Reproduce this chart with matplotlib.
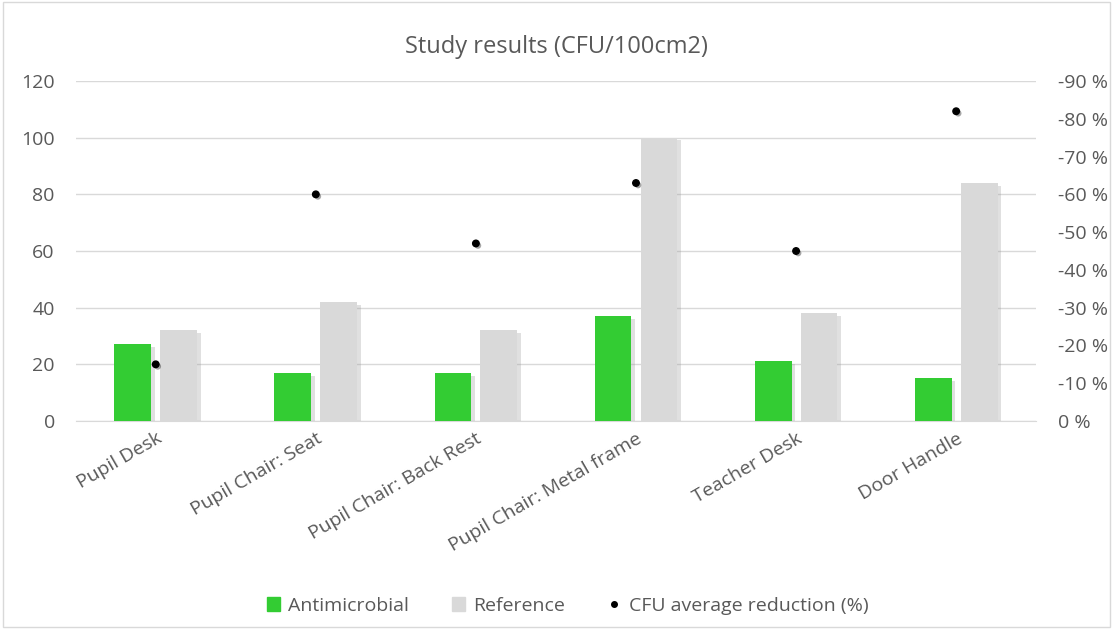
import matplotlib
matplotlib.use("Agg")
import matplotlib.pyplot as plt
import matplotlib.patheffects as pe
from matplotlib.patches import Patch
from matplotlib.lines import Line2D
import numpy as np

# data
categories = ["Pupil Desk", "Pupil Chair: Seat", "Pupil Chair: Back Rest",
              "Pupil Chair: Metal frame", "Teacher Desk", "Door Handle"]
antimicrobial = [27, 17, 17, 37, 21, 15]
reference = [32, 42, 32, 100, 38, 84]
reduction = [-15, -60, -47, -63, -45, -82]

plt.rcParams['font.family'] = ['Open Sans', 'DejaVu Sans']
txt = "#595959"
green = "#33cc33"
grey = "#d9d9d9"

fig = plt.figure(figsize=(11.13, 6.29), dpi=100)
ax = fig.add_axes([0.068, 0.3307, 0.863, 0.5405])
x = np.arange(len(categories))
w = 0.23
shadow = [pe.SimplePatchShadow(offset=(2.5, -2), shadow_rgbFace="#999999", alpha=0.3), pe.Normal()]
b1 = ax.bar(x - 0.0285 - w / 2, antimicrobial, w, color=green, zorder=3)
b2 = ax.bar(x + 0.0285 + w / 2, reference, w, color=grey, zorder=3)
for b in list(b1) + list(b2):
    b.set_path_effects(shadow)

ax.set_xlim(-0.5, len(categories) - 0.5)
ax.set_ylim(0, 120)
ax.set_yticks(range(0, 121, 20))
ax.yaxis.grid(True, color=grey, lw=1, zorder=0)
for s in ["top", "right", "left"]:
    ax.spines[s].set_visible(False)
ax.spines["bottom"].set_color(grey)
ax.tick_params(axis="y", length=0, labelsize=14, colors=txt, pad=15)
ax.tick_params(axis="x", length=0, labelsize=14, colors=txt, pad=6)
ax.set_xticks(x)
ax.set_xticklabels(categories, rotation=30, ha="right", rotation_mode="anchor")

ax2 = ax.twinx()
ax2.set_ylim(0, -90)
ax2.set_yticks(range(0, -91, -10))
ax2.set_yticklabels([f"{v} %" for v in range(0, -91, -10)])
for s in ax2.spines.values():
    s.set_visible(False)
ax2.tick_params(axis="y", length=0, labelsize=14, colors=txt, pad=16)
ax2.scatter(x, reduction, s=22, color="black", zorder=5,
            path_effects=[pe.SimplePatchShadow(offset=(1.5, -1.5), alpha=0.35), pe.Normal()])

ax.set_title("Study results (CFU/100cm2)", fontsize=17, color=txt, pad=20)

handles = [Patch(color=green), Patch(color=grey),
           Line2D([], [], ls="none", marker="o", color="black", markersize=4)]
labels = ["Antimicrobial", "Reference", "CFU average reduction (%)"]
fig.legend(handles, labels, loc="lower center", bbox_to_anchor=(0.51, -0.005), ncol=3,
           frameon=False, fontsize=14, labelcolor=txt, handlelength=0.7, handleheight=0.7,
           columnspacing=2.2, handletextpad=0.4)

fig.patches.append(plt.Rectangle((0.003, 0.003), 0.994, 0.994, transform=fig.transFigure,
                                 fill=False, edgecolor=grey, lw=1))
fig.savefig("out.png", dpi=100, facecolor="white")
